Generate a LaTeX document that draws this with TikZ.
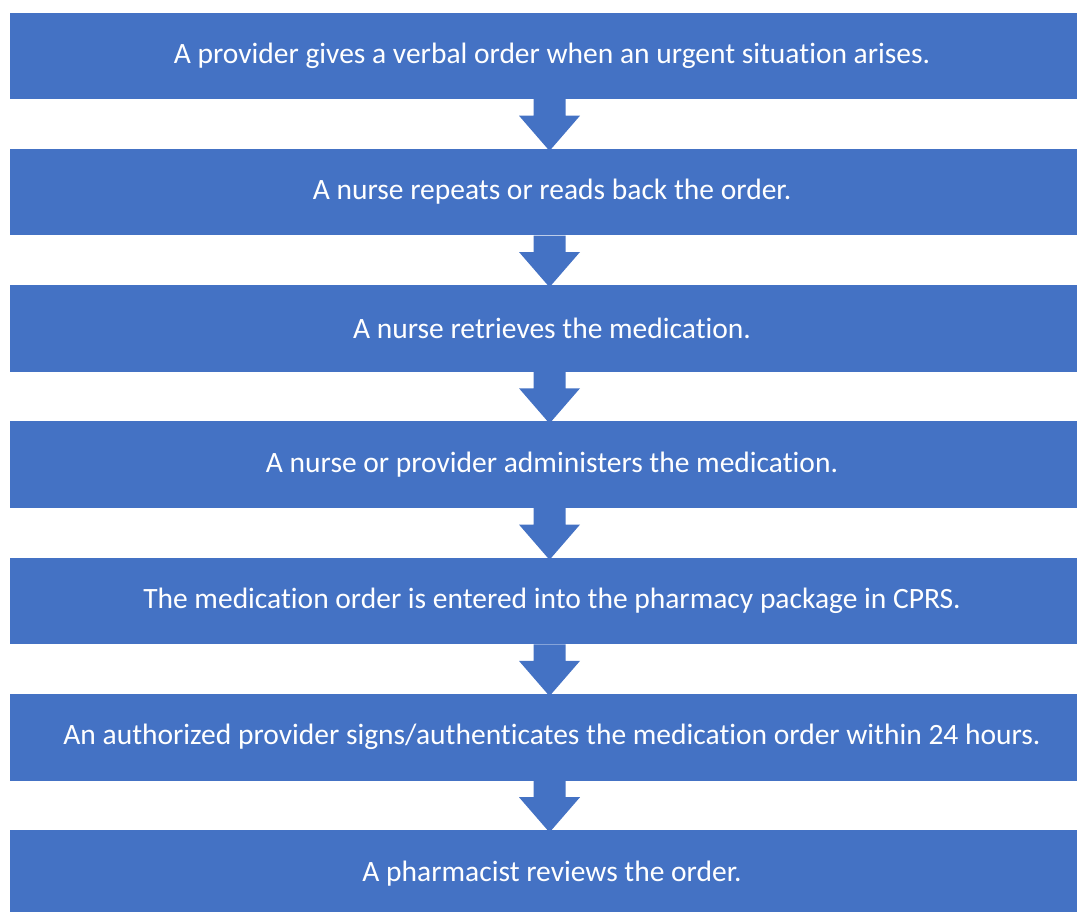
\documentclass[tikz,border=0pt]{standalone}
\usepackage{fontspec}
\setmainfont{Carlito}[Ligatures={NoCommon,NoRare},RawFeature={-liga;-dlig}]
\usetikzlibrary{calc}
\definecolor{flowblue}{HTML}{4472C4}
\begin{document}
\begin{tikzpicture}[x=1pt,y=1pt,
  stepbox/.style={fill=flowblue, draw=none, text=white, minimum width=1085pt, minimum height=86.5pt, inner sep=0pt, font=\fontsize{29.5}{34}\selectfont, anchor=center},
  flow/.style={fill=flowblue, draw=none}]
\useasboundingbox (0,0) rectangle (1077,-911);
\clip (0,0) rectangle (1077,-911);
\coordinate (ax) at (549.5,0);
\node[stepbox] (b1) at (552,-55.75) {A provider gives a verbal order when an urgent situation arises.};
\node[stepbox] (b2) at (552,-192.05) {A nurse repeats or reads back the order.};
\node[stepbox] (b3) at (552,-328.35) {A nurse retrieves the medication.};
\node[stepbox] (b4) at (552,-464.65) {A nurse or provider administers the medication.};
\node[stepbox] (b5) at (552,-600.95) {The medication order is entered into the pharmacy package in CPRS.};
\node[stepbox] (b6) at (552,-737.25) {An authorized provider signs/authenticates the medication order within 24 hours.};
\node[stepbox] (b7) at (552,-873.55) {A pharmacist reviews the order.};
\foreach \a/\b in {b1/b2,b2/b3,b3/b4,b4/b5,b5/b6,b6/b7}{
  \fill[flow] ($(\a.south -| ax)+(-16,0)$) -- ($(\a.south -| ax)+(-16,-16.5)$) -- ($(\a.south -| ax)+(-30.5,-16.5)$) -- ($(\b.north -| ax)+(0,-2.3)$) -- ($(\a.south -| ax)+(30.5,-16.5)$) -- ($(\a.south -| ax)+(16,-16.5)$) -- ($(\a.south -| ax)+(16,0)$) -- cycle;
}
\end{tikzpicture}
\end{document}
